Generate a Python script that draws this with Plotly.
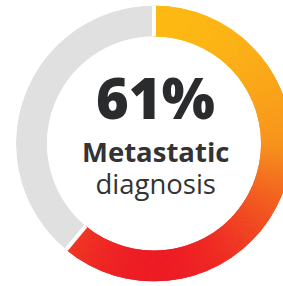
import plotly.graph_objects as go
import numpy as np

# data
labels = ["Metastatic diagnosis", "Other"]
values = [61, 39]
center_big = "61%"
center_l1 = "Metastatic"
center_l2 = "diagnosis"

W, H = 308, 286
hole = 0.775
grad_scale = [[0.0, "#FDB913"], [0.5, "#F7941D"], [1.0, "#ED1C24"]]
gray = "#E0E0E0"

total = sum(values)
deg_main = values[0] / total * 360.0
N = 244
seg_w = deg_main / N
thetas = [(i + 0.5) * seg_w for i in range(N)]
tvals = [(1 - np.cos(np.radians(t))) / 2 for t in thetas]

fig = go.Figure()
fig.add_trace(go.Barpolar(
    r=[1] * N, theta=thetas, width=[seg_w] * N,
    marker=dict(color=tvals, colorscale=grad_scale, cmin=0, cmax=1,
                line=dict(width=1, color=tvals, colorscale=grad_scale, cmin=0, cmax=1)),
    hoverinfo="skip", showlegend=False))
deg_rest = values[1] / total * 360.0
fig.add_trace(go.Barpolar(
    r=[1], theta=[deg_main + deg_rest / 2], width=[deg_rest],
    marker=dict(color=gray, line=dict(width=0)),
    hoverinfo="skip", showlegend=False))
for b in [0.0, deg_main]:
    fig.add_trace(go.Scatterpolar(r=[0, 1.05], theta=[b, b], mode="lines",
                                  line=dict(color="white", width=4),
                                  hoverinfo="skip", showlegend=False))

sub_text = ("<span style='font-size:27.5px;font-weight:bold'>" + center_l1 + "</span><br>"
            "<span style='font-size:27.5px'>" + center_l2 + "</span>")

fig.update_layout(
    width=W, height=H, margin=dict(l=0, r=0, t=0, b=0),
    paper_bgcolor="white", plot_bgcolor="white",
    polar=dict(
        domain=dict(x=[0, 1], y=[4.5 / H, 1 - 5.5 / H]),
        hole=hole, bgcolor="white",
        radialaxis=dict(range=[0, 1], visible=False),
        angularaxis=dict(rotation=90, direction="clockwise", visible=False),
        barmode="overlay",
    ),
    annotations=[
        dict(text=center_big, x=155 / W, y=1 - 97 / H, xref="paper", yref="paper",
             showarrow=False, xanchor="center", yanchor="middle",
             font=dict(family="Open Sans", size=56, color="#2A2B2D", weight=800)),
        dict(text=sub_text, x=156 / W, y=1 - 167.5 / H, xref="paper", yref="paper",
             showarrow=False, xanchor="center", yanchor="middle",
             font=dict(family="Open Sans", size=24.6, color="#333333")),
    ],
)
fig.write_html("out.html", config={"displayModeBar": False},
               post_script="document.body.style.margin='0';document.body.style.overflow='hidden';")
